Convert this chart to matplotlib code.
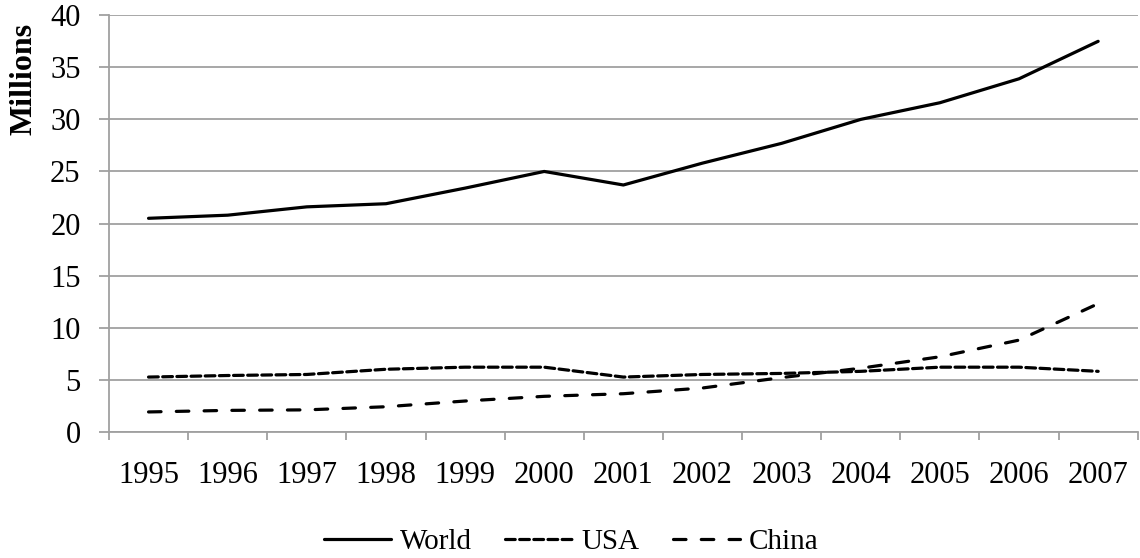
import matplotlib
matplotlib.use("Agg")
import matplotlib.pyplot as plt
import numpy as np

years = ["1995", "1996", "1997", "1998", "1999", "2000", "2001",
         "2002", "2003", "2004", "2005", "2006", "2007"]
world = [20.5, 20.8, 21.6, 21.9, 23.4, 25.0, 23.7, 25.8, 27.7, 30.0, 31.6, 33.9, 37.5]
usa = [5.25, 5.4, 5.5, 6.0, 6.2, 6.2, 5.25, 5.5, 5.6, 5.8, 6.2, 6.2, 5.8]
china = [1.9, 2.05, 2.1, 2.4, 2.95, 3.4, 3.65, 4.2, 5.2, 6.1, 7.2, 8.8, 12.3]

GRAY = "#a0a0a0"

plt.rcParams["font.family"] = ["Liberation Serif", "DejaVu Serif"]
plt.rcParams["lines.scale_dashes"] = False

fig = plt.figure(figsize=(11.4, 5.58), dpi=100)
ax = fig.add_axes([0.0956, 0.2263, 0.9024, 0.7463])

x = np.arange(len(years))
ax.plot(x, world, color="black", lw=2.3, label="World", solid_capstyle="round")
ax.plot(x, usa, color="black", lw=2.3, label="USA", dashes=(7, 3.2), dash_capstyle="round")
ax.plot(x, china, color="black", lw=2.3, label="China", dashes=(9, 11), dash_capstyle="round")

ax.set_xlim(-0.5, len(years) - 0.5)
ax.set_ylim(0, 40)
ax.set_yticks(np.arange(0, 41, 5))
ax.set_xticks(x)
ax.set_xticklabels(years)
ax.set_xticks(np.arange(-0.5, len(years), 1), minor=True)

ax.grid(axis="y", color=GRAY, lw=1.3)
ax.set_axisbelow(True)
for side in ("top", "right"):
    ax.spines[side].set_visible(False)
for side in ("left", "bottom"):
    ax.spines[side].set_color(GRAY)
    ax.spines[side].set_linewidth(1.3)

ax.tick_params(axis="y", length=7, width=1.3, color=GRAY, pad=13.5, labelsize=22)
ax.tick_params(axis="x", which="major", length=0, pad=21, labelsize=22)
ax.tick_params(axis="x", which="minor", length=6, width=1.3, color=GRAY)

ax.set_ylabel("Millions", fontsize=23, fontweight="bold", loc="top")
ax.yaxis.set_label_coords(-0.069, 0.981)

fig.legend(*ax.get_legend_handles_labels(), loc="lower center",
           bbox_to_anchor=(0.501, 0.0), ncol=3, frameon=False, fontsize=21,
           handlelength=2.3, handletextpad=0.3, columnspacing=1.15,
           borderpad=0.1, borderaxespad=0)

fig.savefig("out.png", dpi=100)
